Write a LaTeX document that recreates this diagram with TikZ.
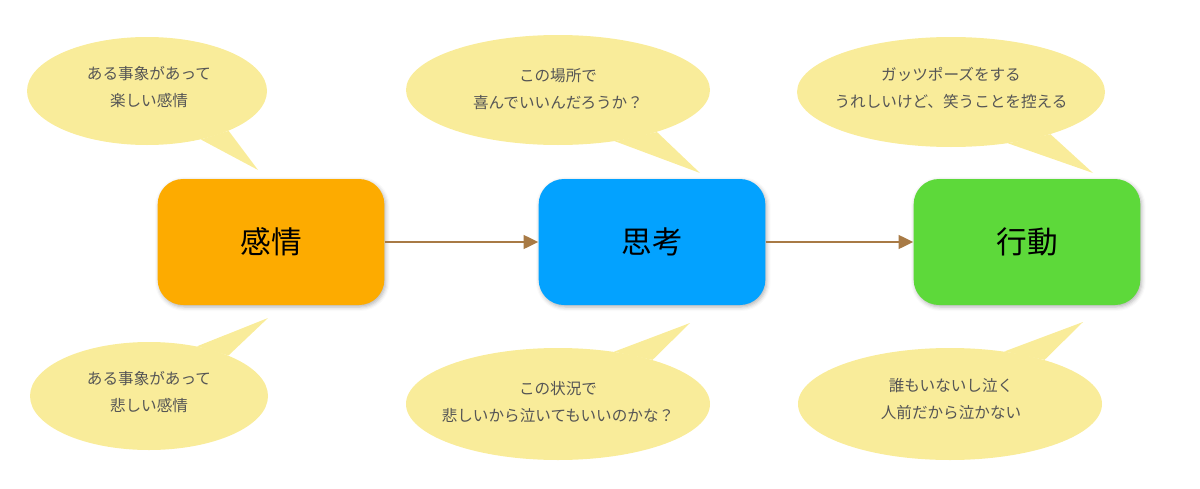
\documentclass[tikz,border=0pt]{standalone}
\usepackage{fontspec}
\setmainfont{Noto Sans CJK JP}
\usetikzlibrary{shapes.geometric,arrows.meta,shadows.blur}
\definecolor{bub}{HTML}{F9EC9A}
\definecolor{btxt}{HTML}{555555}
\definecolor{cOrange}{HTML}{FDAB00}
\definecolor{cBlue}{HTML}{03A2FF}
\definecolor{cGreen}{HTML}{5DD93A}
\definecolor{cArrow}{HTML}{A87A45}
\tikzset{
  bubble/.style={ellipse, fill=bub, draw=none, inner sep=0pt},
  bubtext/.style={text=btxt, font=\fontsize{11.7pt}{20pt}\selectfont, align=center, inner sep=0pt},
  tail/.style={fill=bub, draw=none},
  mainbox/.style={rounded corners=19pt, minimum width=170pt, minimum height=94.5pt, inner sep=0pt,
    font=\fontsize{23pt}{26pt}\selectfont, text=black,
    blur shadow={shadow xshift=1pt, shadow yshift=-1.5pt, shadow blur radius=3pt, shadow opacity=30}},
  flow/.style={draw=cArrow, line width=2.2pt, -{Triangle[length=11pt,width=10pt]}}
}
\begin{document}
\begin{tikzpicture}[x=0.75pt,y=-0.75pt]
\useasboundingbox (0,0) rectangle (1200,489);
% bubbles
\node[bubble, minimum width=180pt, minimum height=81pt] (b1) at (147,91) {};
\node[bubble, minimum width=228pt, minimum height=82.5pt] (b2) at (558,90) {};
\node[bubble, minimum width=231pt, minimum height=82.5pt] (b3) at (951,92) {};
\node[bubble, minimum width=178.5pt, minimum height=81pt] (b4) at (149,396) {};
\node[bubble, minimum width=228pt, minimum height=84pt] (b5) at (558,404) {};
\node[bubble, minimum width=228pt, minimum height=84pt] (b6) at (950,404) {};
% tail tips
\coordinate (t1) at (258,170);
\coordinate (t2) at (700,173);
\coordinate (t3) at (1093,173);
\coordinate (t4) at (268,318);
\coordinate (t5) at (690,323);
\coordinate (t6) at (1083,322);
\fill[tail] (b1.-42.8) -- (t1) -- (b1.-26.8) -- cycle;
\fill[tail] (b2.-42.3) -- (t2) -- (b2.-23.5) -- cycle;
\fill[tail] (b3.-42.3) -- (t3) -- (b3.-23.1) -- cycle;
\fill[tail] (b4.46.1) -- (t4) -- (b4.27.6) -- cycle;
\fill[tail] (b5.43.4) -- (t5) -- (b5.25.1) -- cycle;
\fill[tail] (b6.44.5) -- (t6) -- (b6.25.3) -- cycle;
% bubble texts
\node[bubtext] (x1) at (149,87) {ある事象があって\\楽しい感情};
\node[bubtext] (x2) at (558,89) {この場所で\\喜んでいいんだろうか？};
\node[bubtext] (x3) at (951,88) {ガッツポーズをする\\うれしいけど、笑うことを控える};
\node[bubtext] (x4) at (149,392) {ある事象があって\\悲しい感情};
\node[bubtext] (x5) at (558,402) {この状況で\\悲しいから泣いてもいいのかな？};
\node[bubtext] (x6) at (951,399) {誰もいないし泣く\\人前だから泣かない};
% main boxes
\node[mainbox, fill=cOrange] (emo) at (271,242) {感情};
\node[mainbox, fill=cBlue] (think) at (652,242) {思考};
\node[mainbox, fill=cGreen] (act) at (1027,242) {行動};
\draw[flow] (emo.east) -- (think.west);
\draw[flow] (think.east) -- (act.west);
\end{tikzpicture}
\end{document}
